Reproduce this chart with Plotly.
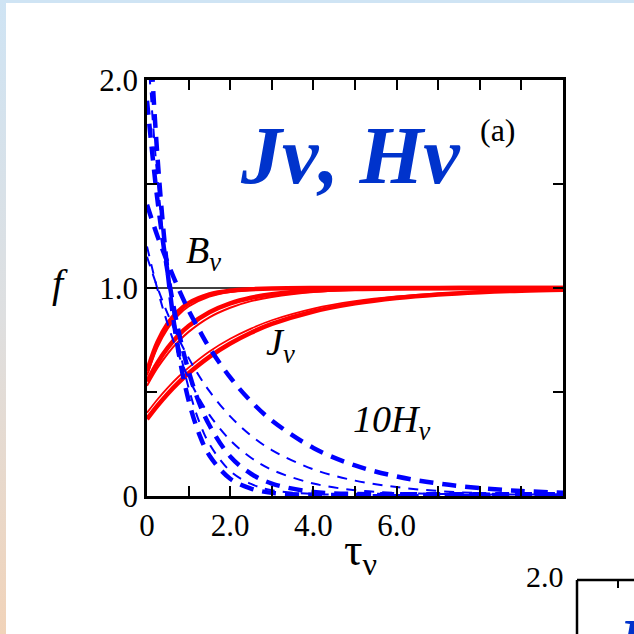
import base64
import plotly.graph_objects as go

# optical depth grid and mean intensity J / B for the three epsilon cases
TAU_J = [0, 0.25, 0.5, 0.75, 1, 1.5, 2, 2.5, 3, 4, 5, 6, 7, 8, 9, 10]
J_FAST_THICK = [0.60, 0.738, 0.829, 0.888, 0.927, 0.969, 0.987, 0.994, 0.998, 1.0, 1.0, 1.0, 1.0, 1.0, 1.0, 1.0]
J_FAST_THIN = [0.58, 0.715, 0.806, 0.869, 0.911, 0.959, 0.981, 0.991, 0.996, 0.999, 1.0, 1.0, 1.0, 1.0, 1.0, 1.0]
J_MED_THICK = [0.55, 0.640, 0.713, 0.771, 0.817, 0.883, 0.926, 0.953, 0.970, 0.988, 0.995, 0.998, 0.999, 1.0, 1.0, 1.0]
J_MED_THIN = [0.53, 0.615, 0.685, 0.742, 0.789, 0.859, 0.905, 0.937, 0.957, 0.981, 0.992, 0.996, 0.998, 0.999, 1.0, 1.0]
J_SLOW_THIN = [0.40, 0.464, 0.521, 0.572, 0.617, 0.695, 0.756, 0.805, 0.845, 0.901, 0.937, 0.960, 0.974, 0.984, 0.990, 0.993]
J_SLOW_THICK = [0.37, 0.434, 0.492, 0.544, 0.590, 0.669, 0.733, 0.785, 0.827, 0.887, 0.926, 0.952, 0.969, 0.980, 0.987, 0.991]

# flux 10 H / B
TAU_H = [0, 0.25, 0.5, 0.75, 1, 1.25, 1.5, 2, 2.5, 3, 4, 5, 6, 7, 8, 9, 10]
H_FAST_THICK = [2.5, 1.635, 1.07, 0.70, 0.46, 0.30, 0.195, 0.083, 0.036, 0.015, 0.006, 0.005, 0.005, 0.005, 0.005, 0.005, 0.005]
H_FAST_THIN = [2.2, 1.53, 1.065, 0.74, 0.52, 0.36, 0.25, 0.12, 0.058, 0.028, 0.010, 0.006, 0.005, 0.005, 0.005, 0.005, 0.005]
H_MED_THICK = [1.9, 1.425, 1.07, 0.80, 0.60, 0.45, 0.34, 0.19, 0.107, 0.06, 0.019, 0.010, 0.008, 0.008, 0.008, 0.008, 0.008]
H_MED_THIN = [1.2, 0.995, 0.825, 0.684, 0.567, 0.47, 0.39, 0.268, 0.184, 0.126, 0.06, 0.028, 0.015, 0.010, 0.008, 0.007, 0.006]
H_SLOW_THIN = [1.15, 1.003, 0.874, 0.761, 0.664, 0.578, 0.504, 0.383, 0.291, 0.221, 0.128, 0.074, 0.043, 0.024, 0.014, 0.010, 0.008]
H_SLOW_THICK = [1.4, 1.25, 1.12, 1.0, 0.893, 0.80, 0.713, 0.57, 0.455, 0.363, 0.231, 0.147, 0.094, 0.060, 0.038, 0.024, 0.016]

B_LEVEL = 1.0

X_TICKS = [0, 1, 2, 3, 4, 5, 6, 7, 8, 9, 10]
X_TICKTEXT = ["0", "", "2.0", "", "4.0", "", "6.0", "", "", "", ""]
Y_TICKS = [0, 0.5, 1.0, 1.5, 2.0]
Y_TICKTEXT = ["0", "", "1.0", "", "2.0"]

SERIF = "Liberation Serif"
RED = "rgb(255,0,0)"
BLUE = "rgb(0,0,255)"
TITLE_BLUE = "rgb(0,51,204)"

W, H = 634, 634
L, R, T, B = 147, 71, 80, 138
PW, PH = W - L - R, H - T - B


def px_x(x):
    return (x - L) / PW


def px_y(y):
    return (H - B - y) / PH


def svg_uri(svg):
    return "data:image/svg+xml;base64," + base64.b64encode(svg.encode()).decode()


fig = go.Figure()

red_lines = [
    (J_FAST_THICK, 4.5), (J_FAST_THIN, 2),
    (J_MED_THICK, 4.5), (J_MED_THIN, 2),
    (J_SLOW_THIN, 1.8), (J_SLOW_THICK, 4.5),
]
for ys, w in red_lines:
    fig.add_trace(go.Scatter(
        x=TAU_J, y=ys, mode="lines", line=dict(color=RED, width=w, shape="spline"),
        showlegend=False, hoverinfo="skip",
    ))

blue_lines = [
    (H_FAST_THICK, 4.5, "14px,9px"), (H_FAST_THIN, 2, "10px,8px"),
    (H_MED_THICK, 4.5, "14px,9px"), (H_MED_THIN, 2, "10px,8px"),
    (H_SLOW_THIN, 2, "10px,8px"), (H_SLOW_THICK, 4.5, "14px,9px"),
]
for ys, w, dash in blue_lines:
    fig.add_trace(go.Scatter(
        x=TAU_H, y=ys, mode="lines", line=dict(color=BLUE, width=w, dash=dash, shape="spline"),
        showlegend=False, hoverinfo="skip",
    ))

fig.add_hline(y=B_LEVEL, line_color="black", line_width=1.5, layer="below")

axis_common = dict(
    showline=True, linecolor="black", linewidth=2.5, mirror="ticks",
    ticks="inside", ticklen=10, tickwidth=2, tickcolor="black",
    showgrid=False, zeroline=False,
    tickfont=dict(family=SERIF, size=31, color="black"),
)
fig.update_xaxes(range=[0, 10], tickvals=X_TICKS, ticktext=X_TICKTEXT, **axis_common)
fig.update_yaxes(range=[0, 2], tickvals=Y_TICKS, ticktext=Y_TICKTEXT, **axis_common)

annotations = [
    dict(text="<b><i>Jν, Hν</i></b>", x=2.19, y=1.635, xanchor="left", yanchor="middle",
         font=dict(family=SERIF, size=82, color=TITLE_BLUE)),
    dict(text="(a)", x=7.95, y=1.76, xanchor="left", yanchor="middle",
         font=dict(family=SERIF, size=32, color="black")),
    dict(text="<i>B<sub>ν</sub></i>", x=0.9, y=1.17, xanchor="left", yanchor="middle",
         font=dict(family=SERIF, size=38, color="black")),
    dict(text="<i>J<sub>ν</sub></i>", x=2.82, y=0.725, xanchor="left", yanchor="middle",
         font=dict(family=SERIF, size=38, color="black")),
    dict(text="<i>10H<sub>ν</sub></i>", x=4.9, y=0.355, xanchor="left", yanchor="middle",
         font=dict(family=SERIF, size=38, color="black")),
]
for a in annotations:
    a.update(xref="x", yref="y", showarrow=False)
    fig.add_annotation(**a)

# outside labels
fig.add_annotation(text="<i>f</i>", xref="paper", yref="y", x=px_x(50), y=1.02,
                   xanchor="left", yanchor="middle",
                   showarrow=False, font=dict(family=SERIF, size=40, color="black"))
fig.add_annotation(text="τ<sub>ν</sub>", xref="paper", yref="paper", x=px_x(360), y=px_y(584),
                   xanchor="center", yanchor="bottom",
                   showarrow=False, font=dict(family=SERIF, size=46, color="black"))

# edge of the next panel peeking in at the bottom right
fig.add_annotation(text="2.0", xref="paper", yref="paper", x=px_x(566), y=px_y(595),
                   xanchor="right", yanchor="bottom", showarrow=False,
                   font=dict(family=SERIF, size=30, color="black"))
fig.add_annotation(text="<b><i>J</i></b>", xref="paper", yref="paper", x=px_x(610), y=px_y(606),
                   xanchor="left", yanchor="top", showarrow=False, borderpad=0,
                   font=dict(family=SERIF, size=60, color=TITLE_BLUE))
fig.add_shape(type="line", xref="paper", yref="paper", x0=px_x(577), x1=px_x(640),
              y0=px_y(580), y1=px_y(580), line=dict(color="black", width=2.5))
fig.add_shape(type="line", xref="paper", yref="paper", x0=px_x(577), x1=px_x(577),
              y0=px_y(580), y1=px_y(640), line=dict(color="black", width=2.5))
fig.add_shape(type="line", xref="paper", yref="paper", x0=px_x(618), x1=px_x(618),
              y0=px_y(580), y1=px_y(588), line=dict(color="black", width=2))

# slide background strips
left_strip = (
    '<svg xmlns="http://www.w3.org/2000/svg" width="10" height="634" preserveAspectRatio="none">'
    '<defs><linearGradient id="g" x1="0" y1="0" x2="0" y2="1">'
    '<stop offset="0" stop-color="#cfe4f4"/><stop offset="0.5" stop-color="#dedfe0"/>'
    '<stop offset="1" stop-color="#f1d3b9"/></linearGradient></defs>'
    '<rect width="10" height="634" fill="url(#g)"/></svg>'
)
top_strip = (
    '<svg xmlns="http://www.w3.org/2000/svg" width="634" height="4" preserveAspectRatio="none">'
    '<rect width="634" height="4" fill="#cfe4f4"/></svg>'
)
fig.add_layout_image(source=svg_uri(left_strip), xref="paper", yref="paper",
                     x=px_x(0), y=px_y(0), sizex=6 / PW, sizey=H / PH,
                     sizing="stretch", xanchor="left", yanchor="top", layer="below")
fig.add_layout_image(source=svg_uri(top_strip), xref="paper", yref="paper",
                     x=px_x(0), y=px_y(0), sizex=W / PW, sizey=3 / PH,
                     sizing="stretch", xanchor="left", yanchor="top", layer="below")

fig.update_layout(
    width=W, height=H,
    margin=dict(l=L, r=R, t=T, b=B),
    paper_bgcolor="white", plot_bgcolor="white",
    showlegend=False,
)

# page has a default 8px body margin; drop it so the figure sits at the window corner
fig.write_html("out.html", config={"displayModeBar": False},
               post_script="document.body.style.margin='0';")
